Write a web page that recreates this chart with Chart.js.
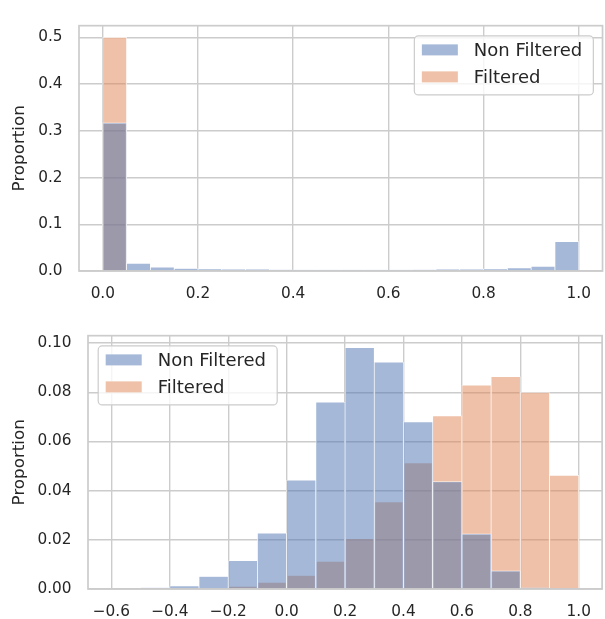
<!DOCTYPE html>
<html>
<head>
<meta charset="utf-8">
<script src="https://cdn.jsdelivr.net/npm/chart.js@4.4.0/dist/chart.umd.min.js"></script>
<style>
    body { margin: 0; background: #ffffff; }
    #wrap { position: relative; width: 605px; height: 619px; }
    canvas { position: absolute; left: 0; }
</style>
</head>
<body>
<div id="wrap">
    <canvas id="topChart" width="605" height="310" style="top:0px"></canvas>
    <canvas id="bottomChart" width="605" height="309" style="top:310px"></canvas>
</div>
<script>
// top panel: bins of 0.05 between 0 and 1 (left edges)
const topBins = [0, 0.05, 0.1, 0.15, 0.2, 0.25, 0.3, 0.35, 0.4, 0.45,
                 0.5, 0.55, 0.6, 0.65, 0.7, 0.75, 0.8, 0.85, 0.9, 0.95];
const topNonFiltered = [0.317, 0.0162, 0.0081, 0.0054, 0.0047, 0.0034, 0.0034, 0.0027, 0.002, 0.002,
                        0.002, 0.002, 0.002, 0.0027, 0.0034, 0.004, 0.0047, 0.0068, 0.0101, 0.0628];
const topFiltered = [0.5, 0, 0, 0, 0, 0, 0, 0, 0, 0,
                     0, 0, 0, 0, 0, 0, 0, 0, 0, 0];
const topXTicks = [0, 0.2, 0.4, 0.6, 0.8, 1.0];
const topYTicks = [0, 0.1, 0.2, 0.3, 0.4, 0.5];

// bottom panel: bins of 0.1 between -0.6 and 1 (left edges)
const bottomBins = [-0.6, -0.5, -0.4, -0.3, -0.2, -0.1, 0, 0.1,
                    0.2, 0.3, 0.4, 0.5, 0.6, 0.7, 0.8, 0.9];
const bottomNonFiltered = [0.0002, 0.0005, 0.0013, 0.0051, 0.0115, 0.0227, 0.0443, 0.076,
                           0.0981, 0.0922, 0.068, 0.0437, 0.0224, 0.0074, 0.0005, 0];
const bottomFiltered = [0, 0, 0, 0, 0.0011, 0.0027, 0.0055, 0.0112,
                        0.0205, 0.0354, 0.0513, 0.0704, 0.0829, 0.0864, 0.0799, 0.0462];
const bottomXTicks = [-0.6, -0.4, -0.2, 0, 0.2, 0.4, 0.6, 0.8, 1.0];
const bottomYTicks = [0, 0.02, 0.04, 0.06, 0.08, 0.1];

const seriesNames = ['Non Filtered', 'Filtered'];

const FONT = 'DejaVu Sans';
const TEXT = '#262626';
const GRID = '#cccccc';

function comBarras(bins, valores) {
    const largura = bins[1] - bins[0];
    return valores.map((v, i) => ({ x: bins[i] + largura / 2, y: v }));
}

function fmt(casas) {
    return function (v) {
        return v.toFixed(casas).replace('-', '\u2212');
    };
}

// spines all around the plot area
const molduraPlugin = {
    id: 'moldura',
    afterDatasetsDraw(chart) {
        const a = chart.chartArea;
        const ctx = chart.ctx;
        ctx.save();
        ctx.strokeStyle = GRID;
        ctx.lineWidth = 1.7;
        ctx.strokeRect(a.left, a.top, a.right - a.left, a.bottom - a.top);
        ctx.restore();
    }
};

// matplotlib-like legend inside the axes
const legendaPlugin = {
    id: 'legenda',
    afterDraw(chart, args, opts) {
        const a = chart.chartArea;
        const ctx = chart.ctx;
        const w = 179, h = 59;
        const x = opts.lado === 'right' ? a.right - 9.7 - w : a.left + 9.7;
        const y = a.top + 9.7;
        ctx.save();
        ctx.beginPath();
        ctx.roundRect(x + 0.5, y + 0.5, w, h, 4);
        ctx.fillStyle = 'rgba(255,255,255,0.8)';
        ctx.fill();
        ctx.strokeStyle = GRID;
        ctx.lineWidth = 1.2;
        ctx.stroke();
        chart.data.datasets.forEach(function (ds, i) {
            const top = y + 9 + i * 27;
            ctx.fillStyle = '#ffffff';
            ctx.fillRect(x + 8, top, 36, 11);
            ctx.fillStyle = ds.backgroundColor;
            ctx.fillRect(x + 8, top, 36, 11);
            ctx.fillStyle = TEXT;
            ctx.font = '18px "' + FONT + '"';
            ctx.textBaseline = 'alphabetic';
            ctx.textAlign = 'left';
            ctx.fillText(ds.label, x + 60, y + 21 + i * 26.5);
        });
        ctx.restore();
    }
};

function plotarHistograma(id, bins, nonFiltered, filtered, xTicks, yTicks, cfg) {
    const dados = {
        datasets: [{
            label: seriesNames[0],
            data: comBarras(bins, nonFiltered),
            backgroundColor: 'rgba(76,114,176,0.5)',
            borderColor: 'rgba(255,255,255,0.85)',
            borderWidth: 0.7,
            barPercentage: 1,
            categoryPercentage: 1,
            grouped: false
        }, {
            label: seriesNames[1],
            data: comBarras(bins, filtered),
            backgroundColor: 'rgba(221,132,82,0.5)',
            borderColor: 'rgba(255,255,255,0.85)',
            borderWidth: 0.7,
            barPercentage: 1,
            categoryPercentage: 1,
            grouped: false
        }]
    };
    const ticksFont = { family: FONT, size: 15.3 };
    const config = {
        type: 'bar',
        data: dados,
        plugins: [molduraPlugin, legendaPlugin],
        options: {
            responsive: false,
            animation: false,
            layout: { padding: { left: 0, right: 2, top: cfg.topo, bottom: 0 } },
            plugins: {
                legend: { display: false },
                tooltip: { enabled: false },
                legenda: { lado: cfg.lado }
            },
            scales: {
                x: {
                    type: 'linear',
                    offset: false,
                    min: cfg.xMin,
                    max: cfg.xMax,
                    afterBuildTicks: s => { s.ticks = xTicks.map(v => ({ value: v })); },
                    afterFit: s => { s.height = cfg.alturaX; },
                    grid: { color: GRID, lineWidth: 1.4, drawTicks: false, offset: false },
                    border: { display: false },
                    ticks: { color: TEXT, font: ticksFont, padding: 14, callback: fmt(1), maxRotation: 0 }
                },
                y: {
                    min: 0,
                    max: cfg.yMax,
                    afterBuildTicks: s => { s.ticks = yTicks.map(v => ({ value: v })); },
                    afterFit: s => { s.width = cfg.larguraY; },
                    grid: { color: GRID, lineWidth: 1.4, drawTicks: false },
                    border: { display: false },
                    ticks: { color: TEXT, font: ticksFont, padding: 16.5, callback: fmt(cfg.casasY) },
                    title: {
                        display: true,
                        text: 'Proportion',
                        color: TEXT,
                        font: { family: FONT, size: 16.7 },
                        padding: { top: 9.5, bottom: 0 }
                    }
                }
            }
        }
    };
    const ctx = document.getElementById(id).getContext('2d');
    return new Chart(ctx, config);
}

plotarHistograma('topChart', topBins, topNonFiltered, topFiltered, topXTicks, topYTicks, {
    topo: 11, alturaX: 39, larguraY: 79, xMin: -0.05, xMax: 1.05, yMax: 0.525, casasY: 1, lado: 'right'
});
plotarHistograma('bottomChart', bottomBins, bottomNonFiltered, bottomFiltered, bottomXTicks, bottomYTicks, {
    topo: 23, alturaX: 30, larguraY: 88, xMin: -0.68, xMax: 1.08, yMax: 0.103, casasY: 2, lado: 'left'
});
</script>
</body>
</html>
